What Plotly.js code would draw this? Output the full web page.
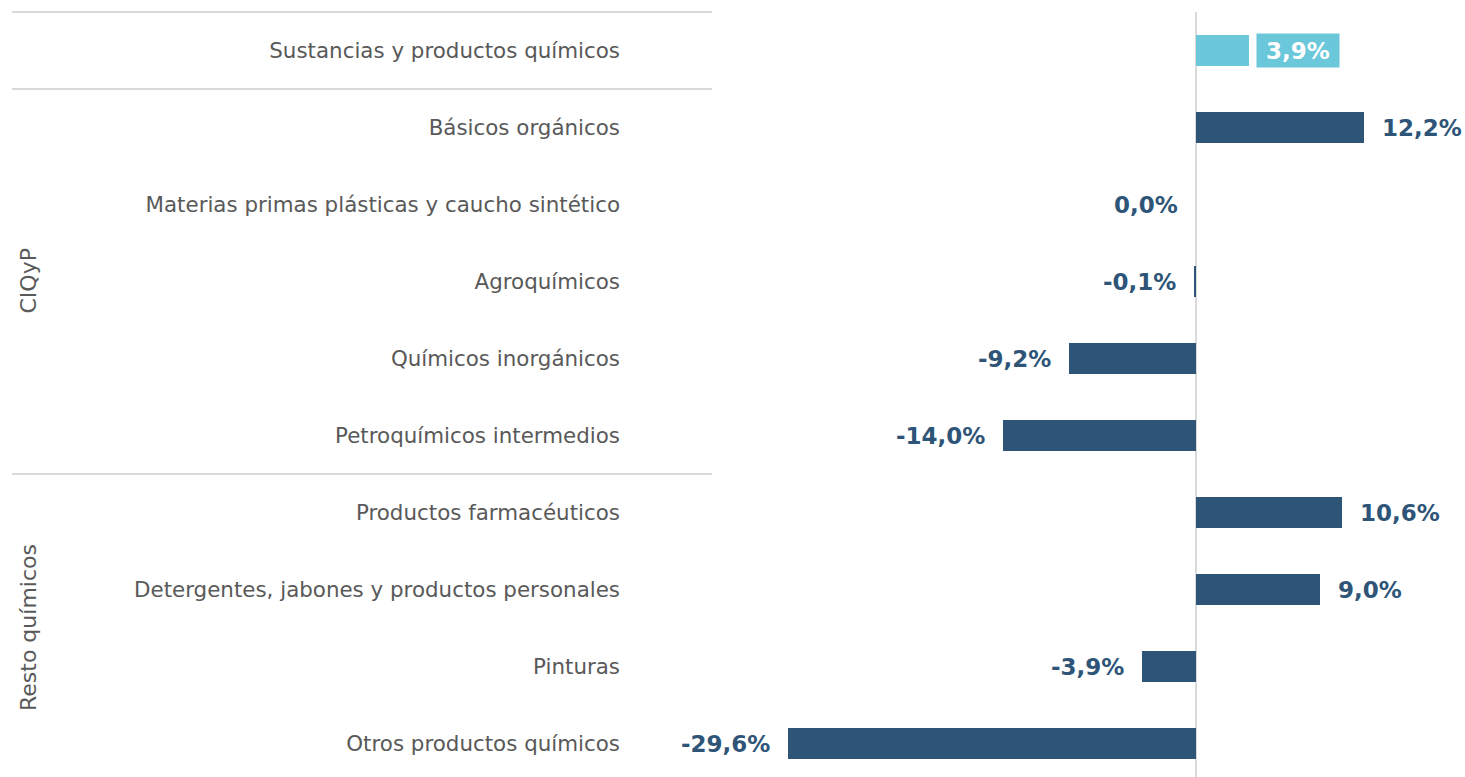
<!DOCTYPE html>
<html>
<head>
<meta charset="utf-8">
<script src="https://cdn.plot.ly/plotly-3.0.1.min.js"></script>
<style>html,body{margin:0;padding:0;background:#fff;}#chart{width:1465px;height:777px;}</style>
</head>
<body>
<div id="chart"></div>
<script>
var categories = [
  "Sustancias y productos químicos",
  "Básicos orgánicos",
  "Materias primas plásticas y caucho sintético",
  "Agroquímicos",
  "Químicos inorgánicos",
  "Petroquímicos intermedios",
  "Productos farmacéuticos",
  "Detergentes, jabones y productos personales",
  "Pinturas",
  "Otros productos químicos"
];
var values = [3.9, 12.2, 0.0, -0.1, -9.2, -14.0, 10.6, 9.0, -3.9, -29.6];
var groupNames = ["CIQyP", "Resto químicos"];
var groupStart = [1, 6];
var groupEnd = [5, 9];

var W = 1465, H = 777;
var mL = 632, mR = 0, mT = 12, mB = 0;
var pw = W - mL - mR, ph = H - mT - mB;
var zeroPx = 1195.5, pxPerUnit = 13.78;
var xr = [(mL - zeroPx) / pxPerUnit, (W - mR - zeroPx) / pxPerUnit];
var yTop = -0.5, yBot = yTop + ph / 77;
function yPaper(v) { return (yBot - v) / (yBot - yTop); }
function xPaper(px) { return (px - mL) / pw; }

var dark = "#2e5578", light = "#6ac8da";
var colors = values.map(function (v, i) { return i === 0 ? light : dark; });
var idx = categories.map(function (c, i) { return i; });
function fmt(v) { return v.toFixed(1).replace(".", ",") + "%"; }

var trace = {
  type: "bar", orientation: "h",
  x: values, y: idx,
  width: 0.39,
  marker: { color: colors, line: { width: 0 } },
  hoverinfo: "skip"
};

var annotations = [];
values.forEach(function (v, i) {
  if (i === 0) {
    annotations.push({
      x: v, y: i, xref: "x", yref: "y", text: "<b>" + fmt(v) + "</b>",
      showarrow: false, xanchor: "left", yanchor: "middle", xshift: 7,
      bgcolor: light, borderpad: 3, width: 76, height: 27, align: "center", valign: "middle",
      font: { family: "DejaVu Sans", size: 23, color: "#ffffff" }
    });
  } else {
    annotations.push({
      x: v, y: i, xref: "x", yref: "y", text: "<b>" + fmt(v) + "</b>",
      showarrow: false, xanchor: v > 0 ? "left" : "right", yanchor: "middle",
      xshift: v > 0 ? 16 : -16,
      font: { family: "DejaVu Sans", size: 23, color: dark }
    });
  }
});
groupNames.forEach(function (g, k) {
  annotations.push({
    x: xPaper(28), xref: "paper", y: yPaper((groupStart[k] + groupEnd[k]) / 2), yref: "paper",
    text: g, textangle: -90, showarrow: false, xanchor: "center", yanchor: "middle",
    font: { family: "DejaVu Sans", size: 22, color: "#595959" }
  });
});

var sepVals = [-0.5, 0.5, 5.5];
var shapes = sepVals.map(function (v) {
  return {
    type: "line", xref: "paper", yref: "paper",
    x0: xPaper(12), x1: xPaper(712), y0: yPaper(v), y1: yPaper(v),
    line: { color: "#d9d9d9", width: 2 }
  };
});

var layout = {
  width: W, height: H,
  margin: { l: mL, r: mR, t: mT, b: mB, pad: 0 },
  paper_bgcolor: "#ffffff", plot_bgcolor: "#ffffff",
  showlegend: false,
  bargap: 0,
  xaxis: {
    range: xr, showgrid: false, showticklabels: false, ticks: "",
    zeroline: true, zerolinecolor: "#d9d9d9", zerolinewidth: 2, fixedrange: true
  },
  yaxis: {
    range: [yBot, yTop], tickmode: "array", tickvals: idx, ticktext: categories,
    showgrid: false, zeroline: false, ticks: "", ticklen: 0, ticklabelstandoff: 11,
    tickfont: { family: "DejaVu Sans", size: 21.4, color: "#595959" }, fixedrange: true
  },
  annotations: annotations,
  shapes: shapes
};

Plotly.newPlot("chart", [trace], layout, { displayModeBar: false, staticPlot: true });
</script>
</body>
</html>
